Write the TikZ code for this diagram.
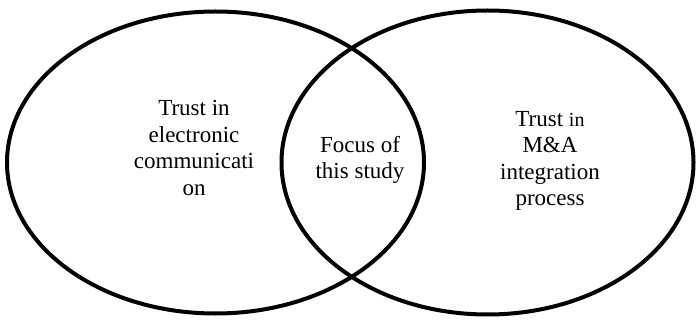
\documentclass[tikz,border=0pt]{standalone}
\usepackage{fontspec}
\setmainfont{Liberation Serif}
\begin{document}
\begin{tikzpicture}[x=1pt,y=-1pt,
  circ/.style={line width=4pt},
  lbl/.style={align=center,inner sep=0pt,font=\fontsize{23}{26.5}\selectfont}]
\useasboundingbox (0,0) rectangle (696,320);
\draw[circ] (215.5,162.5) ellipse [x radius=208.5, y radius=151];
\draw[circ] (487.5,162.5) ellipse [x radius=206, y radius=152];
\node[lbl] (left) at (194,148) {Trust in\\electronic\\communicati\\on};
\node[lbl] (mid) at (360,160) {Focus of\\this study};
\node[lbl] (right) at (550,161) {Trust {\fontsize{20}{26.5}\selectfont in}\\M\&A\\integration\\process};
\end{tikzpicture}
\end{document}
